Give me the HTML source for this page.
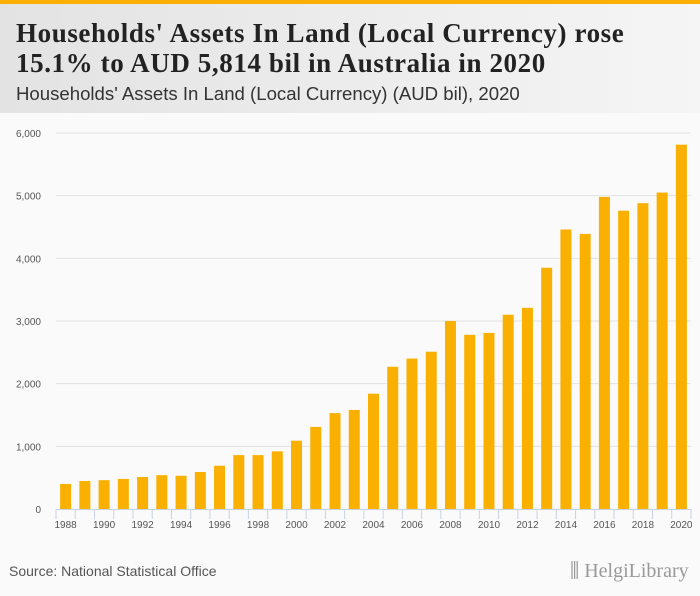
<!DOCTYPE html>
<html><head><meta charset="utf-8"><style>
body{margin:0;width:700px;height:596px;background:#fafafa;font-family:"Liberation Sans",sans-serif;overflow:hidden;position:relative}
#top{position:absolute;left:0;top:0;width:700px;height:4px;background:#f9b000}
#hdr{position:absolute;left:0;top:4px;width:700px;height:109px;background:linear-gradient(90deg,#e3e3e3,#f5f5f5)}
#title{position:absolute;left:16px;top:14px;font-family:"Liberation Serif",serif;font-weight:bold;font-size:27px;letter-spacing:0.6px;line-height:30px;color:#222;white-space:nowrap}
#sub{position:absolute;left:16px;top:79px;font-size:18.6px;color:#333;white-space:nowrap}
#src{position:absolute;left:9px;top:563px;font-size:14px;color:#555}
#logo{position:absolute;left:570px;top:560px;font-family:"Liberation Serif",serif;font-size:20px;color:#999}
svg{position:absolute;left:0;top:0}
</style></head><body>
<div id="top"></div>
<div id="hdr">
<div id="title">Households' Assets In Land (Local Currency) rose<br>15.1% to AUD 5,814 bil in Australia in 2020</div>
<div id="sub">Households' Assets In Land (Local Currency) (AUD bil), 2020</div>
</div>
<svg id="chart" width="700" height="596"></svg>
<div id="src">Source: National Statistical Office</div>
<div id="logo">⫼ HelgiLibrary</div>
<script>
const years=[1988,1989,1990,1991,1992,1993,1994,1995,1996,1997,1998,1999,2000,2001,2002,2003,2004,2005,2006,2007,2008,2009,2010,2011,2012,2013,2014,2015,2016,2017,2018,2019,2020];
const values=[400,447,460,480,510,540,530,590,690,860,860,920,1090,1310,1530,1580,1840,2270,2400,2510,3000,2780,2810,3100,3210,3850,4460,4390,4980,4760,4880,5050,5814];
const yTicks=[0,1000,2000,3000,4000,5000,6000];
const yTickLabels=["0","1,000","2,000","3,000","4,000","5,000","6,000"];
const svg=document.getElementById('chart');const NS='http://www.w3.org/2000/svg';
const x0=56,x1=691,y0=509,y1=133;
const band=(x1-x0)/years.length;
const xs=i=>x0+band*(i+0.5);
const ys=v=>y0-(v/6000)*(y0-y1);
function mk(t,a){const e=document.createElementNS(NS,t);for(const k in a)e.setAttribute(k,a[k]);svg.appendChild(e);return e;}
yTicks.forEach((t,i)=>{
 if(t>0){const g=mk('line',{x1:x0,x2:x1,y1:ys(t),y2:ys(t),stroke:'#e2e2e2','stroke-width':1});
 
 }
 const l=mk('text',{x:41,y:ys(t)+4,'text-anchor':'end','font-size':10,fill:'#555','font-family':'Liberation Sans, sans-serif'});
 l.textContent=yTickLabels[i];
 
 
});
values.forEach((v,i)=>{
 const r=mk('rect',{x:xs(i)-5.5,y:ys(v),width:11,height:y0-ys(v),fill:'#f9b000'});
 
 
});
const ax=mk('line',{x1:x0,x2:x1,y1:y0+0.5,y2:y0+0.5,stroke:'#c8d2e6'});


for(let i=0;i<=years.length;i++){
 const t=mk('line',{x1:x0+band*i,x2:x0+band*i,y1:y0,y2:y0+10,stroke:'#c8d2e6'});
 
 
}
years.forEach((yr,i)=>{if(i%2)return;
 const l=mk('text',{x:xs(i),y:528,'text-anchor':'middle','font-size':10,fill:'#555','font-family':'Liberation Sans, sans-serif'});
 l.textContent=yr;
 
 
});
</script>
</body></html>
